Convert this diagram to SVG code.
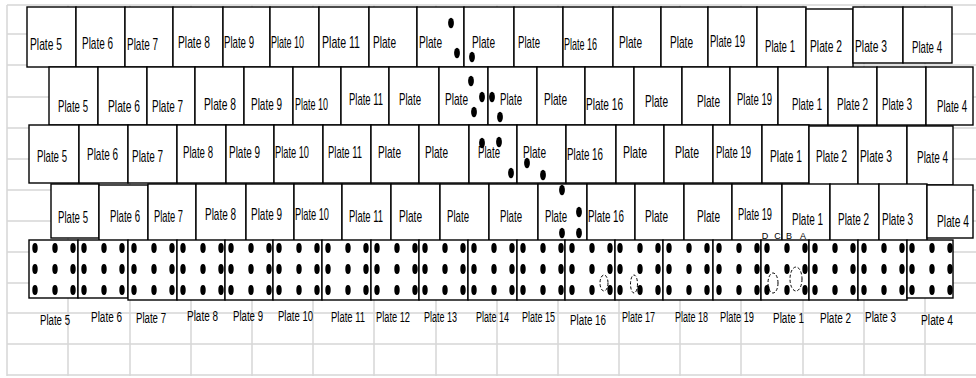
<svg xmlns="http://www.w3.org/2000/svg" xmlns:xlink="http://www.w3.org/1999/xlink" width="976" height="378" viewBox="0 0 976 378">
<defs>
<style>
.g{stroke:#d6d6d6;stroke-width:1.5;fill:none}
.b{fill:#fff;stroke:#000;stroke-width:1.4}
.t{font-family:"Liberation Sans",Arial,sans-serif;font-size:17px;fill:#000}
.s{font-size:15.5px}
.d{fill:#000}
.dash{fill:none;stroke:#000;stroke-width:1;stroke-dasharray:3 2}
.l{font-family:"Liberation Sans",Arial,sans-serif;font-size:9px;fill:#000;text-anchor:middle}
</style>
<g id="d9" class="d">
<ellipse cx="6" cy="8" rx="2.7" ry="5"/><ellipse cx="26" cy="8" rx="2.7" ry="5"/><ellipse cx="44" cy="8" rx="2.7" ry="5"/>
<ellipse cx="6" cy="29" rx="2.7" ry="5"/><ellipse cx="26" cy="29" rx="2.7" ry="5"/><ellipse cx="44" cy="29" rx="2.7" ry="5"/>
<ellipse cx="6" cy="50" rx="2.7" ry="5"/><ellipse cx="26" cy="50" rx="2.7" ry="5"/><ellipse cx="44" cy="50" rx="2.7" ry="5"/>
</g>
</defs>
<rect width="976" height="378" fill="#fff"/>
<g id="grid" class="g">
<path d="M7 5H976M7 34H976M7 65H976M7 97H976M7 128H976M7 159H976M7 190H976M7 221H976M7 252H976M7 283H976M7 313H976M7 344H976M7 375H976"/>
<path d="M7 5V376M68 5V376M130 5V376M191 5V376M252 5V376M313 5V376M374 5V376M436 5V376M497 5V376M558 5V376M619 5V376M680 5V376M741 5V376M803 5V376M864 5V376M925 5V376"/>
</g>
<g id="row1">
<g id="r1-p5"><rect class="b" x="27" y="7" width="49" height="60"/><text class="t" x="30" y="50" textLength="32" lengthAdjust="spacingAndGlyphs">Plate 5</text></g>
<g id="r1-p6"><rect class="b" x="76" y="7" width="49" height="60"/><text class="t" x="82" y="49" textLength="31" lengthAdjust="spacingAndGlyphs">Plate 6</text></g>
<g id="r1-p7"><rect class="b" x="125" y="7" width="48" height="60"/><text class="t" x="127" y="50" textLength="31" lengthAdjust="spacingAndGlyphs">Plate 7</text></g>
<g id="r1-p8"><rect class="b" x="173" y="7" width="50" height="60"/><text class="t" x="178" y="48" textLength="32" lengthAdjust="spacingAndGlyphs">Plate 8</text></g>
<g id="r1-p9"><rect class="b" x="223" y="7" width="47" height="60"/><text class="t" x="224" y="48" textLength="30" lengthAdjust="spacingAndGlyphs">Plate 9</text></g>
<g id="r1-p10"><rect class="b" x="270" y="7" width="49" height="60"/><text class="t" x="271" y="48" textLength="33" lengthAdjust="spacingAndGlyphs">Plate 10</text></g>
<g id="r1-p11"><rect class="b" x="319" y="7" width="50" height="60"/><text class="t" x="322" y="48" textLength="38" lengthAdjust="spacingAndGlyphs">Plate 11</text></g>
<g id="r1-p12"><rect class="b" x="369" y="7" width="48" height="60"/><text class="t" x="373" y="48" textLength="23" lengthAdjust="spacingAndGlyphs">Plate</text></g>
<g id="r1-p13"><rect class="b" x="417" y="7" width="47" height="60"/><text class="t" x="419" y="48" textLength="23" lengthAdjust="spacingAndGlyphs">Plate</text></g>
<g id="r1-p14"><rect class="b" x="464" y="7" width="50" height="60"/><text class="t" x="472" y="48" textLength="23" lengthAdjust="spacingAndGlyphs">Plate</text></g>
<g id="r1-p15"><rect class="b" x="514" y="7" width="49" height="60"/><text class="t" x="518" y="48" textLength="22" lengthAdjust="spacingAndGlyphs">Plate</text></g>
<g id="r1-p16"><rect class="b" x="563" y="7" width="50" height="60"/><text class="t" x="564" y="50" textLength="33" lengthAdjust="spacingAndGlyphs">Plate 16</text></g>
<g id="r1-p17"><rect class="b" x="613" y="7" width="48" height="60"/><text class="t" x="619" y="48" textLength="23" lengthAdjust="spacingAndGlyphs">Plate</text></g>
<g id="r1-p18"><rect class="b" x="661" y="7" width="47" height="60"/><text class="t" x="670" y="48" textLength="23" lengthAdjust="spacingAndGlyphs">Plate</text></g>
<g id="r1-p19"><rect class="b" x="708" y="7" width="49" height="60"/><text class="t" x="710" y="47" textLength="35" lengthAdjust="spacingAndGlyphs">Plate 19</text></g>
<g id="r1-p1"><rect class="b" x="757" y="7" width="49" height="60"/><text class="t" x="765" y="52" textLength="30" lengthAdjust="spacingAndGlyphs">Plate 1</text></g>
<g id="r1-p2"><rect class="b" x="806" y="9" width="47" height="59"/><text class="t" x="810" y="52" textLength="32" lengthAdjust="spacingAndGlyphs">Plate 2</text></g>
<g id="r1-p3"><rect class="b" x="853" y="7" width="50" height="56"/><text class="t" x="855" y="52" textLength="32" lengthAdjust="spacingAndGlyphs">Plate 3</text></g>
<g id="r1-p4"><rect class="b" x="903" y="7" width="49" height="56"/><text class="t" x="912" y="53" textLength="30" lengthAdjust="spacingAndGlyphs">Plate 4</text></g>
</g>
<g id="row2">
<g id="r2-p5"><rect class="b" x="49" y="67" width="49" height="58"/><text class="t" x="58" y="112" textLength="30" lengthAdjust="spacingAndGlyphs">Plate 5</text></g>
<g id="r2-p6"><rect class="b" x="98" y="67" width="49" height="58"/><text class="t" x="108" y="112" textLength="32" lengthAdjust="spacingAndGlyphs">Plate 6</text></g>
<g id="r2-p7"><rect class="b" x="147" y="67" width="48" height="58"/><text class="t" x="152" y="112" textLength="31" lengthAdjust="spacingAndGlyphs">Plate 7</text></g>
<g id="r2-p8"><rect class="b" x="195" y="67" width="49" height="58"/><text class="t" x="204" y="110" textLength="32" lengthAdjust="spacingAndGlyphs">Plate 8</text></g>
<g id="r2-p9"><rect class="b" x="244" y="67" width="49" height="58"/><text class="t" x="251" y="110" textLength="31" lengthAdjust="spacingAndGlyphs">Plate 9</text></g>
<g id="r2-p10"><rect class="b" x="293" y="67" width="48" height="58"/><text class="t" x="295" y="110" textLength="33" lengthAdjust="spacingAndGlyphs">Plate 10</text></g>
<g id="r2-p11"><rect class="b" x="341" y="67" width="48" height="58"/><text class="t" x="349" y="105" textLength="34" lengthAdjust="spacingAndGlyphs">Plate 11</text></g>
<g id="r2-p12"><rect class="b" x="389" y="67" width="50" height="58"/><text class="t" x="399" y="105" textLength="22" lengthAdjust="spacingAndGlyphs">Plate</text></g>
<g id="r2-p13"><rect class="b" x="439" y="67" width="49" height="58"/><text class="t" x="445" y="105" textLength="23" lengthAdjust="spacingAndGlyphs">Plate</text></g>
<g id="r2-p14"><rect class="b" x="488" y="67" width="49" height="58"/><text class="t" x="500" y="105" textLength="22" lengthAdjust="spacingAndGlyphs">Plate</text></g>
<g id="r2-p15"><rect class="b" x="537" y="67" width="48" height="58"/><text class="t" x="544" y="105" textLength="23" lengthAdjust="spacingAndGlyphs">Plate</text></g>
<g id="r2-p16"><rect class="b" x="585" y="67" width="49" height="58"/><text class="t" x="586" y="110" textLength="37" lengthAdjust="spacingAndGlyphs">Plate 16</text></g>
<g id="r2-p17"><rect class="b" x="634" y="67" width="48" height="58"/><text class="t" x="645" y="107" textLength="23" lengthAdjust="spacingAndGlyphs">Plate</text></g>
<g id="r2-p18"><rect class="b" x="682" y="67" width="48" height="58"/><text class="t" x="697" y="107" textLength="23" lengthAdjust="spacingAndGlyphs">Plate</text></g>
<g id="r2-p19"><rect class="b" x="730" y="67" width="48" height="58"/><text class="t" x="737" y="105" textLength="35" lengthAdjust="spacingAndGlyphs">Plate 19</text></g>
<g id="r2-p1"><rect class="b" x="778" y="67" width="50" height="58"/><text class="t" x="792" y="110" textLength="30" lengthAdjust="spacingAndGlyphs">Plate 1</text></g>
<g id="r2-p2"><rect class="b" x="828" y="67" width="49" height="58"/><text class="t" x="837" y="110" textLength="31" lengthAdjust="spacingAndGlyphs">Plate 2</text></g>
<g id="r2-p3"><rect class="b" x="877" y="67" width="49" height="58"/><text class="t" x="882" y="110" textLength="30" lengthAdjust="spacingAndGlyphs">Plate 3</text></g>
<g id="r2-p4"><rect class="b" x="926" y="67" width="47" height="58"/><text class="t" x="937" y="112" textLength="30" lengthAdjust="spacingAndGlyphs">Plate 4</text></g>
</g>
<g id="row3">
<g id="r3-p5"><rect class="b" x="29" y="125" width="50" height="58"/><text class="t" x="37" y="162" textLength="30" lengthAdjust="spacingAndGlyphs">Plate 5</text></g>
<g id="r3-p6"><rect class="b" x="79" y="125" width="49" height="58"/><text class="t" x="87" y="160" textLength="31" lengthAdjust="spacingAndGlyphs">Plate 6</text></g>
<g id="r3-p7"><rect class="b" x="128" y="125" width="49" height="58"/><text class="t" x="132" y="162" textLength="31" lengthAdjust="spacingAndGlyphs">Plate 7</text></g>
<g id="r3-p8"><rect class="b" x="177" y="125" width="49" height="58"/><text class="t" x="183" y="158" textLength="30" lengthAdjust="spacingAndGlyphs">Plate 8</text></g>
<g id="r3-p9"><rect class="b" x="226" y="125" width="48" height="58"/><text class="t" x="229" y="158" textLength="31" lengthAdjust="spacingAndGlyphs">Plate 9</text></g>
<g id="r3-p10"><rect class="b" x="274" y="125" width="49" height="58"/><text class="t" x="275" y="158" textLength="34" lengthAdjust="spacingAndGlyphs">Plate 10</text></g>
<g id="r3-p11"><rect class="b" x="323" y="125" width="48" height="58"/><text class="t" x="328" y="158" textLength="34" lengthAdjust="spacingAndGlyphs">Plate 11</text></g>
<g id="r3-p12"><rect class="b" x="371" y="125" width="48" height="58"/><text class="t" x="378" y="158" textLength="23" lengthAdjust="spacingAndGlyphs">Plate</text></g>
<g id="r3-p13"><rect class="b" x="419" y="125" width="50" height="58"/><text class="t" x="425" y="158" textLength="23" lengthAdjust="spacingAndGlyphs">Plate</text></g>
<g id="r3-p14"><rect class="b" x="469" y="125" width="48" height="58"/><text class="t" x="478" y="158" textLength="22" lengthAdjust="spacingAndGlyphs">Plate</text></g>
<g id="r3-p15"><rect class="b" x="517" y="125" width="49" height="58"/><text class="t" x="523" y="158" textLength="23" lengthAdjust="spacingAndGlyphs">Plate</text></g>
<g id="r3-p16"><rect class="b" x="566" y="125" width="50" height="58"/><text class="t" x="567" y="160" textLength="36" lengthAdjust="spacingAndGlyphs">Plate 16</text></g>
<g id="r3-p17"><rect class="b" x="616" y="125" width="48" height="58"/><text class="t" x="623" y="158" textLength="24" lengthAdjust="spacingAndGlyphs">Plate</text></g>
<g id="r3-p18"><rect class="b" x="664" y="125" width="49" height="58"/><text class="t" x="675" y="158" textLength="24" lengthAdjust="spacingAndGlyphs">Plate</text></g>
<g id="r3-p19"><rect class="b" x="713" y="125" width="49" height="58"/><text class="t" x="716" y="158" textLength="35" lengthAdjust="spacingAndGlyphs">Plate 19</text></g>
<g id="r3-p1"><rect class="b" x="762" y="125" width="47" height="58"/><text class="t" x="770" y="162" textLength="32" lengthAdjust="spacingAndGlyphs">Plate 1</text></g>
<g id="r3-p2"><rect class="b" x="809" y="126" width="49" height="59"/><text class="t" x="816" y="162" textLength="31" lengthAdjust="spacingAndGlyphs">Plate 2</text></g>
<g id="r3-p3"><rect class="b" x="858" y="126" width="49" height="59"/><text class="t" x="860" y="162" textLength="32" lengthAdjust="spacingAndGlyphs">Plate 3</text></g>
<g id="r3-p4"><rect class="b" x="907" y="126" width="46" height="59"/><text class="t" x="917" y="163" textLength="31" lengthAdjust="spacingAndGlyphs">Plate 4</text></g>
</g>
<g id="row4">
<g id="r4-p5"><rect class="b" x="51" y="184" width="48" height="54"/><text class="t" x="58" y="223" textLength="30" lengthAdjust="spacingAndGlyphs">Plate 5</text></g>
<g id="r4-p6"><rect class="b" x="99" y="185" width="49" height="56"/><text class="t" x="110" y="222" textLength="30" lengthAdjust="spacingAndGlyphs">Plate 6</text></g>
<g id="r4-p7"><rect class="b" x="148" y="184" width="48" height="57"/><text class="t" x="154" y="222" textLength="29" lengthAdjust="spacingAndGlyphs">Plate 7</text></g>
<g id="r4-p8"><rect class="b" x="196" y="184" width="50" height="57"/><text class="t" x="205" y="220" textLength="31" lengthAdjust="spacingAndGlyphs">Plate 8</text></g>
<g id="r4-p9"><rect class="b" x="246" y="184" width="48" height="57"/><text class="t" x="251" y="220" textLength="31" lengthAdjust="spacingAndGlyphs">Plate 9</text></g>
<g id="r4-p10"><rect class="b" x="294" y="184" width="48" height="57"/><text class="t" x="295" y="220" textLength="34" lengthAdjust="spacingAndGlyphs">Plate 10</text></g>
<g id="r4-p11"><rect class="b" x="342" y="184" width="49" height="57"/><text class="t" x="349" y="222" textLength="34" lengthAdjust="spacingAndGlyphs">Plate 11</text></g>
<g id="r4-p12"><rect class="b" x="391" y="184" width="49" height="57"/><text class="t" x="399" y="222" textLength="23" lengthAdjust="spacingAndGlyphs">Plate</text></g>
<g id="r4-p13"><rect class="b" x="440" y="184" width="49" height="57"/><text class="t" x="447" y="222" textLength="22" lengthAdjust="spacingAndGlyphs">Plate</text></g>
<g id="r4-p14"><rect class="b" x="489" y="184" width="49" height="57"/><text class="t" x="500" y="222" textLength="22" lengthAdjust="spacingAndGlyphs">Plate</text></g>
<g id="r4-p15"><rect class="b" x="538" y="184" width="49" height="57"/><text class="t" x="545" y="222" textLength="22" lengthAdjust="spacingAndGlyphs">Plate</text></g>
<g id="r4-p16"><rect class="b" x="587" y="184" width="48" height="57"/><text class="t" x="588" y="222" textLength="36" lengthAdjust="spacingAndGlyphs">Plate 16</text></g>
<g id="r4-p17"><rect class="b" x="635" y="184" width="49" height="57"/><text class="t" x="645" y="222" textLength="23" lengthAdjust="spacingAndGlyphs">Plate</text></g>
<g id="r4-p18"><rect class="b" x="684" y="184" width="48" height="57"/><text class="t" x="697" y="222" textLength="23" lengthAdjust="spacingAndGlyphs">Plate</text></g>
<g id="r4-p19"><rect class="b" x="732" y="184" width="50" height="57"/><text class="t" x="738" y="220" textLength="34" lengthAdjust="spacingAndGlyphs">Plate 19</text></g>
<g id="r4-p1"><rect class="b" x="782" y="184" width="48" height="57"/><text class="t" x="792" y="225" textLength="31" lengthAdjust="spacingAndGlyphs">Plate 1</text></g>
<g id="r4-p2"><rect class="b" x="830" y="184" width="49" height="57"/><text class="t" x="838" y="225" textLength="31" lengthAdjust="spacingAndGlyphs">Plate 2</text></g>
<g id="r4-p3"><rect class="b" x="879" y="184" width="48" height="57"/><text class="t" x="882" y="225" textLength="31" lengthAdjust="spacingAndGlyphs">Plate 3</text></g>
<g id="r4-p4"><rect class="b" x="927" y="185" width="46" height="53"/><text class="t" x="937" y="227" textLength="32" lengthAdjust="spacingAndGlyphs">Plate 4</text></g>
</g>
<g id="abcd-labels">
<text class="l" x="765" y="239">D</text><text class="l" x="777.5" y="239">C</text><text class="l" x="789" y="239">B</text><text class="l" x="803" y="239">A</text>
</g>
<g id="row5">
<g id="r5-p5"><rect class="b" x="29" y="240" width="49" height="58"/><use href="#d9" x="29" y="240"/></g>
<g id="r5-p6"><rect class="b" x="78" y="240" width="50" height="58"/><use href="#d9" x="78" y="240"/></g>
<g id="r5-p7"><rect class="b" x="128" y="240" width="49" height="60"/><use href="#d9" x="128" y="240"/></g>
<g id="r5-p8"><rect class="b" x="177" y="240" width="48" height="60"/><use href="#d9" x="177" y="240"/></g>
<g id="r5-p9"><rect class="b" x="225" y="240" width="48" height="60"/><use href="#d9" x="225" y="240"/></g>
<g id="r5-p10"><rect class="b" x="273" y="240" width="49" height="60"/><use href="#d9" x="273" y="240"/></g>
<g id="r5-p11"><rect class="b" x="322" y="240" width="49" height="60"/><use href="#d9" x="322" y="240"/></g>
<g id="r5-p12"><rect class="b" x="371" y="240" width="48" height="60"/><use href="#d9" x="371" y="240"/></g>
<g id="r5-p13"><rect class="b" x="419" y="240" width="49" height="60"/><use href="#d9" x="419" y="240"/></g>
<g id="r5-p14"><rect class="b" x="468" y="240" width="49" height="60"/><use href="#d9" x="468" y="240"/></g>
<g id="r5-p15"><rect class="b" x="517" y="240" width="48" height="60"/><use href="#d9" x="517" y="240"/></g>
<g id="r5-p16"><rect class="b" x="565" y="240" width="50" height="60"/><use href="#d9" x="566" y="240"/><ellipse class="dash" cx="604" cy="283" rx="4" ry="8"/></g>
<g id="r5-p17"><rect class="b" x="615" y="240" width="48" height="60"/><use href="#d9" x="614" y="240"/><ellipse class="dash" cx="634" cy="284" rx="3.5" ry="9"/></g>
<g id="r5-p18"><rect class="b" x="663" y="240" width="50" height="60"/><use href="#d9" x="663" y="240"/></g>
<g id="r5-p19"><rect class="b" x="713" y="240" width="48" height="60"/><use href="#d9" x="713" y="240"/></g>
<g id="r5-p1"><rect class="b" x="761" y="240" width="48" height="60"/><use href="#d9" x="761" y="240"/><ellipse class="dash" cx="773" cy="283" rx="5" ry="10"/><ellipse class="dash" cx="796" cy="279" rx="6" ry="12"/></g>
<g id="r5-p2"><rect class="b" x="809" y="240" width="49" height="60"/><use href="#d9" x="809" y="240"/></g>
<g id="r5-p3"><rect class="b" x="858" y="240" width="49" height="60"/><use href="#d9" x="858" y="240"/></g>
<g id="r5-p4"><rect class="b" x="907" y="240" width="46" height="58"/><use href="#d9" x="906" y="240"/></g>
</g>
<g id="bottom-labels" class="t s">
<text x="40" y="325" textLength="30" lengthAdjust="spacingAndGlyphs">Plate 5</text>
<text x="91" y="322" textLength="31" lengthAdjust="spacingAndGlyphs">Plate 6</text>
<text x="136" y="323" textLength="30" lengthAdjust="spacingAndGlyphs">Plate 7</text>
<text x="187" y="321" textLength="31" lengthAdjust="spacingAndGlyphs">Plate 8</text>
<text x="233" y="321" textLength="30" lengthAdjust="spacingAndGlyphs">Plate 9</text>
<text x="278" y="321" textLength="35" lengthAdjust="spacingAndGlyphs">Plate 10</text>
<text x="331" y="322" textLength="34" lengthAdjust="spacingAndGlyphs">Plate 11</text>
<text x="376" y="322" textLength="34" lengthAdjust="spacingAndGlyphs">Plate 12</text>
<text x="424" y="322" textLength="33" lengthAdjust="spacingAndGlyphs">Plate 13</text>
<text x="476" y="322" textLength="33" lengthAdjust="spacingAndGlyphs">Plate 14</text>
<text x="522" y="322" textLength="33" lengthAdjust="spacingAndGlyphs">Plate 15</text>
<text x="570" y="325" textLength="36" lengthAdjust="spacingAndGlyphs">Plate 16</text>
<text x="622" y="322" textLength="33" lengthAdjust="spacingAndGlyphs">Plate 17</text>
<text x="675" y="322" textLength="33" lengthAdjust="spacingAndGlyphs">Plate 18</text>
<text x="720" y="322" textLength="34" lengthAdjust="spacingAndGlyphs">Plate 19</text>
<text x="773" y="323" textLength="31" lengthAdjust="spacingAndGlyphs">Plate 1</text>
<text x="820" y="323" textLength="31" lengthAdjust="spacingAndGlyphs">Plate 2</text>
<text x="865" y="322" textLength="31" lengthAdjust="spacingAndGlyphs">Plate 3</text>
<text x="921" y="325" textLength="32" lengthAdjust="spacingAndGlyphs">Plate 4</text>
</g>
<g id="loose-dots" class="d">
<ellipse cx="451" cy="23" rx="2.9" ry="5.2"/><ellipse cx="457" cy="53" rx="2.9" ry="5.2"/><ellipse cx="472" cy="57" rx="2.9" ry="5.2"/>
<ellipse cx="471" cy="81" rx="2.9" ry="5.2"/><ellipse cx="482" cy="97" rx="2.9" ry="5.2"/><ellipse cx="474" cy="112" rx="2.9" ry="5.2"/><ellipse cx="492" cy="97" rx="2.9" ry="5.2"/><ellipse cx="500" cy="117" rx="2.9" ry="5.2"/>
<ellipse cx="482" cy="143" rx="2.9" ry="5.2"/><ellipse cx="499" cy="142" rx="2.9" ry="5.2"/><ellipse cx="511" cy="173" rx="2.9" ry="5.2"/><ellipse cx="527" cy="163" rx="2.9" ry="5.2"/><ellipse cx="543" cy="175" rx="2.9" ry="5.2"/>
<ellipse cx="562" cy="190" rx="2.9" ry="5.2"/><ellipse cx="579" cy="212" rx="2.9" ry="5.2"/><ellipse cx="562" cy="233" rx="2.9" ry="5.2"/><ellipse cx="579" cy="233" rx="2.9" ry="5.2"/>
</g>
</svg>
